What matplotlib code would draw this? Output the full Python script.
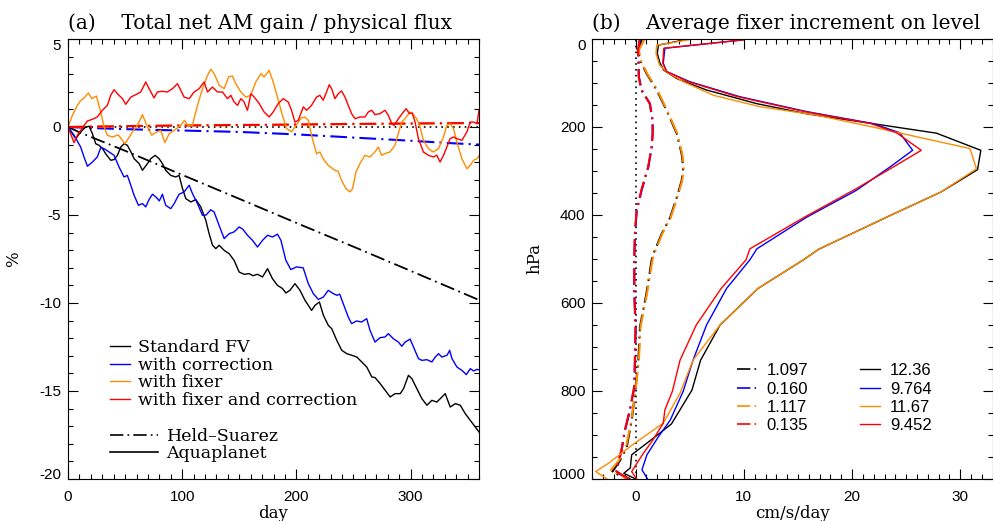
import matplotlib
matplotlib.use("Agg")
import matplotlib.pyplot as plt
from matplotlib.lines import Line2D
from matplotlib.ticker import MultipleLocator

plt.rcParams['axes.unicode_minus'] = False
plt.rcParams['font.family'] = ['Liberation Sans', 'DejaVu Sans']
SERIF = 'DejaVu Serif'

BLACK = '#000000'
BLUE = '#0000ff'
ORANGE = '#ff8c00'
RED = '#ff0000'
DASHDOT = (0, (8, 2.5, 1, 2.5))
DOTTED = (0, (1, 2.5))

# ---------------- (a) total net AM gain / physical flux [%] ----------------
# Aquaplanet runs
std_day = [0, 3.8, 6.8, 11.1, 15.5, 18.5, 21.4, 24.3, 27.2, 30, 33, 37.4, 40.4, 43.3, 46.2, 49.1, 52, 55,
           57.9, 62.3, 65.2, 69.6, 72.5, 76.3, 79.8, 82.7, 85.6, 90, 94.4, 97.3, 100.3, 103.2, 107.6, 112,
           116.3, 120.7, 123.6, 126.6, 129.5, 132.4, 136.8, 141.2, 145.5, 149.9, 154.3, 158.7, 162, 166,
           170.4, 174.8, 179.1, 183.5, 187.9, 190.8, 194.4, 198.8, 203.2, 207.6, 213.4, 216.4, 220.2, 223.7,
           228, 231, 235.4, 239.8, 244.2, 248.6, 253, 257.3, 261.7, 266.1, 269, 273.4, 277.8, 282.2, 286.5,
           291, 293.9, 298.2, 301.2, 305.6, 310, 314.4, 318.7, 323.1, 327.5, 330.4, 334.8, 339.2, 343.6,
           348, 352.4, 356.8, 360]
std_pct = [0, -0.38, -0.66, -0.28, 0, 0.04, -0.38, -0.95, -1.04, -1.2, -1.52, -1.89, -1.85, -1.61, -1.14,
           -0.95, -1.04, -1.4, -1.8, -2.08, -2.46, -2.08, -1.8, -1.61, -1.8, -2.08, -2.46, -2.75, -2.84,
           -2.75, -3.5, -4.07, -4.26, -4.12, -4.54, -5.3, -6.06, -6.72, -6.91, -6.72, -7.01, -7.2, -7.58,
           -8.24, -8.37, -8.33, -8.45, -8.37, -8.52, -8.05, -8.62, -9.0, -9.18, -9.43, -9.28, -8.9, -9.28,
           -9.85, -10.42, -10.13, -9.94, -10.7, -11.27, -11.46, -12.12, -12.69, -12.88, -12.97, -13.07,
           -13.35, -13.64, -14.2, -14.24, -14.58, -14.96, -15.34, -15.15, -15.15, -14.87, -14.11, -14.3,
           -14.87, -15.44, -15.81, -15.53, -15.63, -15.34, -15.15, -15.91, -15.72, -15.81, -16.29, -16.67,
           -17.05, -17.33]

cor_day = [0, 5.3, 11.1, 14, 17, 21.4, 25.7, 28.7, 31.6, 36, 40.4, 44.7, 49.1, 52, 55, 57.9, 61.7, 65.2,
           68.1, 71, 74, 77.5, 80, 82.7, 85.6, 90, 93, 97.3, 101.7, 106.1, 109, 113.4, 117.8, 121, 125.1,
           128, 132.4, 136.8, 141.2, 145.5, 149.9, 153, 157.2, 161.6, 166, 170.4, 174.8, 179.1, 183.5, 186.5,
           190.8, 195.2, 200.2, 206, 210.5, 214.9, 219.3, 223.7, 228, 232.4, 235.4, 238, 241.1, 245.5, 248.4,
           252.8, 257.2, 261.6, 264.5, 268.9, 273.3, 277.7, 280.6, 285, 289.4, 292.4, 295.3, 299.7, 302.6,
           307, 310, 314.4, 318.7, 321.7, 324.6, 327.5, 332, 334.3, 336.3, 340.7, 345.1, 348.9, 352.4, 355.3,
           358.3, 360]
cor_pct = [0, -0.47, -1.14, -1.7, -2.23, -1.99, -1.7, -1.17, -1.23, -1.42, -1.61, -2.27, -2.84, -2.75,
           -3.31, -3.88, -4.45, -4.35, -4.54, -4.12, -3.82, -4.01, -4.2, -3.82, -4.45, -4.64, -4.35, -3.82,
           -3.69, -3.31, -3.78, -4.35, -5.02, -5.0, -4.7, -4.83, -5.6, -6.34, -6.06, -5.96, -5.68, -5.8,
           -6.15, -6.44, -6.82, -6.44, -6.15, -6.25, -6.09, -6.44, -7.57, -8.1, -7.95, -8.0, -8.9, -9.47,
           -9.8, -9.66, -9.28, -9.47, -9.56, -9.5, -10.04, -10.8, -11.17, -11.02, -11.08, -10.89, -11.55,
           -12.22, -11.97, -11.93, -11.74, -12.03, -12.22, -12.46, -12.22, -12.05, -12.5, -13.16, -13.26,
           -13.22, -13.35, -13.07, -12.88, -13.07, -12.97, -12.69, -13.16, -13.64, -13.83, -14.07, -13.73,
           -13.86, -13.77, -13.8]

fix_day = [0, 3.8, 8.2, 11.1, 14, 17.9, 20.8, 24.9, 28.7, 31.6, 34.5, 38.9, 44, 50, 56.4, 60.8, 65.2, 69.6,
           73.4, 77, 81.3, 84.8, 88.6, 93, 98.8, 102, 104.6, 109, 113.4, 117.8, 122, 125, 128, 132.4, 136.8,
           140.6, 144, 147, 151.4, 155.8, 160, 164.5, 169, 171.8, 176.2, 179.7, 182.6, 187, 191.4, 195.8,
           200, 204, 207.5, 210.5, 213.3, 217.7, 220.6, 223.5, 227.9, 233.7, 236.5, 239.6, 243.4, 246.9,
           249.3, 252.2, 255.7, 260, 264.5, 268.8, 271.8, 274.7, 278, 282, 286.4, 289.3, 292.2, 295.2, 299.6,
           302.5, 305.4, 308.4, 311.3, 315.7, 320, 324.5, 328.9, 331.8, 334.7, 337.7, 340.6, 345, 349.4,
           352.3, 355.3, 358.2, 360]
fix_pct = [0, 0.66, 1.23, 1.5, 1.65, 1.93, 1.61, 1.76, 0.85, 0, -0.47, -0.57, -0.45, -0.95, -0.28, 0.09,
           0.7, 0, -0.47, -0.3, -0.19, -0.89, -0.38, -0.19, 0.09, 0.38, 0.1, 0.1, 1.23, 2.18, 2.9, 3.28,
           3.03, 2.37, 2.18, 2.84, 2.9, 2.46, 1.99, 1.7, 1.8, 2.56, 3.03, 2.84, 3.22, 2.56, 1.9, 0.85, -0.09,
           -0.28, 0.1, 0.5, 0.57, 0.38, -0.47, -1.52, -1.42, -1.8, -2.18, -2.46, -2.5, -3.03, -3.5, -3.69,
           -3.5, -2.56, -2.08, -1.61, -1.7, -1.42, -1.14, -1.61, -1.5, -1.42, -1.04, -0.38, 0.28, 0.47, 0.85,
           0.7, 0.47, 0, -0.76, -1.23, -1.42, -1.23, -0.57, 0.09, 0.19, -0.09, -0.85, -1.8, -2.37, -2.18,
           -1.89, -1.8, -1.65]

fixcor_day = [0, 5.3, 8.2, 12, 17, 21.4, 25.7, 30.1, 34.5, 37.4, 40.4, 43.3, 47.7, 50.6, 55, 59.4, 63.7,
              66.7, 68.1, 71, 75.4, 78.3, 82.7, 87.1, 91.5, 95.9, 98.8, 101.7, 106.1, 110.5, 114.9, 119.2,
              122.2, 126.5, 130.9, 135.3, 139.7, 142.6, 145.5, 148.5, 151.4, 154, 157.2, 160.2, 163.1, 167.5,
              171.8, 176.2, 179.7, 184.1, 188.5, 192.9, 195.8, 198.8, 201.7, 206.1, 209, 213.3, 217.7, 220.6,
              223.5, 226.5, 228.8, 230.9, 233.8, 236.7, 239.6, 242.6, 245.5, 248.4, 251.4, 255.7, 260.1, 263,
              266, 268.9, 273.3, 277.7, 280.6, 283.6, 285.6, 289.4, 293.8, 296.2, 299.1, 301.5, 304, 306.9,
              311.3, 315.7, 320, 323, 325.9, 328.9, 331.8, 334.7, 337.7, 340.6, 345, 349.4, 352.3, 355.3,
              358.2, 360]
fixcor_pct = [0, -0.89, -0.47, -0.1, 0.34, 0.44, 0.57, 0.95, 1.23, 1.8, 2.12, 1.89, 1.61, 1.29, 1.7, 1.84,
              1.99, 2.37, 2.56, 2.18, 1.65, 1.99, 2.03, 1.99, 2.18, 2.46, 2.08, 1.7, 1.61, 1.99, 2.18, 2.56,
              1.99, 2.27, 1.99, 1.99, 1.61, 1.8, 1.42, 1.23, 1.61, 1.45, 0.95, 1.89, 1.7, 1.33, 0.85, 0.57,
              0.85, 1.33, 1.61, 1.42, 0.95, 0.28, 0.38, 1.14, 0.95, 1.23, 1.7, 1.8, 1.52, 1.99, 2.4, 2.18,
              1.61, 1.89, 2.05, 1.7, 1.23, 0.76, 0.47, 0.57, 0.57, 0.85, 0.95, 0.7, 0.76, 0.95, 0.66, 0.19,
              0.09, 0.47, 0.85, 1.04, 0.76, 0.8, 0.28, -0.66, -1.42, -1.61, -1.7, -1.6, -1.99, -1.61, -1.14,
              -0.66, -0.57, -0.66, -0.76, -0.28, 0.28, 0.28, 0.19, 0.95]

# Held-Suarez runs
hs_std_day = [0, 10, 50, 100, 150, 200, 250, 300, 360]
hs_std_pct = [0, -0.3, -1.35, -2.72, -4.08, -5.45, -6.8, -8.17, -9.83]
hs_cor_day = [0, 30, 60, 100, 150, 200, 250, 300, 330, 360]
hs_cor_pct = [0, -0.08, -0.14, -0.2, -0.28, -0.42, -0.6, -0.78, -0.9, -1.0]
hs_fix_day = [0, 60, 120, 180, 240, 300, 360]
hs_fix_pct = [0, 0.05, 0.09, 0.12, 0.16, 0.19, 0.22]
hs_fixcor_day = [0, 60, 120, 180, 240, 300, 360]
hs_fixcor_pct = [0, 0.06, 0.1, 0.13, 0.17, 0.2, 0.23]

run_labels = ['Standard FV', 'with correction', 'with fixer', 'with fixer and correction']

# ---------------- (b) average fixer increment on level [cm/s/day] ----------------
aq_std_p = [2, 14, 33, 55, 71, 90, 116, 147, 170, 189, 214, 253, 297, 348, 398, 478, 502, 567, 650, 730,
            798, 875, 904, 945, 975, 987, 1000]
aq_std_u = [4.5, 2.1, 2.0, 2.25, 2.6, 3.8, 6.55, 11.2, 15.8, 21.0, 27.8, 31.9, 31.6, 28.2, 23.8, 16.9, 15.5,
            11.3, 7.8, 6.0, 5.2, 3.3, 1.8, -0.37, -0.5, -1.1, 0.0]
aq_cor_p = [2, 21, 55, 74, 97, 131, 165, 192, 213, 253, 291, 344, 405, 477, 502, 567, 650, 730, 800, 866,
            904, 945, 979, 1000]
aq_cor_u = [9.94, 2.7, 2.55, 2.86, 5.0, 9.6, 15.8, 21.9, 24.4, 25.6, 23.5, 20.4, 15.8, 11.2, 10.55, 8.4,
            6.55, 5.3, 4.4, 3.2, 2.1, 1.04, 0.58, 1.1]
aq_fix_p = [2, 14, 33, 59, 75, 97, 128, 154, 173, 200, 249, 295, 348, 398, 478, 502, 567, 650, 730, 805,
            873, 923, 964, 983, 1000]
aq_fix_u = [4.86, 1.94, 1.88, 2.2, 2.86, 4.4, 7.2, 11.5, 16.7, 21.9, 30.9, 31.5, 28.2, 23.8, 16.9, 15.5,
            11.3, 7.8, 5.3, 4.1, 2.55, -0.34, -2.5, -3.7, -2.65]
aq_fixcor_p = [2, 21, 55, 74, 97, 131, 165, 192, 213, 253, 291, 340, 405, 477, 502, 567, 650, 730, 800,
               843, 873, 911, 942, 983, 1000]
aq_fixcor_u = [9.94, 2.6, 2.5, 2.86, 4.86, 9.4, 15.6, 21.7, 24.1, 26.4, 23.8, 20.4, 15.6, 10.55, 10.2, 7.9,
               5.6, 4.1, 3.4, 2.7, 2.55, 1.6, 0.7, -0.37, 0.1]

hs_std_p = [2, 25, 48, 78, 116, 162, 215, 261, 291, 322, 360, 405, 443, 489, 502, 578, 654, 730, 806, 867,
            928, 958, 985, 1000]
hs_std_u = [0.55, 0.25, 0.4, 1.0, 1.94, 2.86, 3.8, 4.25, 4.4, 4.25, 3.8, 3.2, 2.4, 1.63, 1.48, 1.0, 0.4,
            0.25, -0.06, -0.37, -0.83, -1.45, -2.2, -0.5]
hs_fix_p = [2, 25, 48, 78, 116, 162, 215, 261, 291, 322, 360, 405, 443, 489, 502, 578, 654, 730, 806, 867,
            928, 958, 980, 1000]
hs_fix_u = [0.8, 0.3, 0.45, 1.05, 2.0, 2.9, 3.85, 4.3, 4.45, 4.3, 3.85, 3.25, 2.45, 1.7, 1.55, 1.05, 0.45,
            0.3, -0.05, -0.4, -0.9, -1.55, -2.3, -0.8]
hs_cor_p = [2, 25, 86, 116, 147, 185, 215, 246, 291, 344, 390, 443, 497, 578, 654, 730, 791, 843, 889, 934,
            964, 983, 1000]
hs_cor_u = [0.4, 0.25, 0.3, 0.55, 1.32, 1.57, 1.57, 1.48, 1.17, 0.55, 0.1, -0.06, -0.12, -0.12, 0.0, -0.06,
            -0.12, -0.52, -0.98, -1.29, -1.6, -1.75, -0.8]
hs_fixcor_p = [2, 25, 86, 116, 147, 185, 215, 246, 291, 344, 390, 443, 497, 578, 654, 730, 791, 843, 889,
               934, 964, 983, 1000]
hs_fixcor_u = [0.35, 0.22, 0.28, 0.52, 1.3, 1.55, 1.57, 1.47, 1.15, 0.52, 0.08, -0.08, -0.14, -0.14, -0.02,
               -0.08, -0.14, -0.55, -1.0, -1.32, -1.65, -1.8, -0.6]

hs_means = ['1.097', '0.160', '1.117', '0.135']
aq_means = ['12.36', '9.764', '11.67', '9.452']


def style_axes(ax):
    for sp in ax.spines.values():
        sp.set_linewidth(0.8)
    ax.tick_params(which='both', direction='in', top=True, right=True, width=0.8, labelsize=11)
    ax.tick_params(which='major', length=7)
    ax.tick_params(which='minor', length=3.5)


def pull_end_labels(ax, top_val, bottom_val):
    # keep the end labels of the y axis inside the frame
    for tick in ax.yaxis.get_major_ticks():
        if abs(tick.get_loc() - top_val) < 1e-6:
            tick.label1.set_verticalalignment('top')
        elif abs(tick.get_loc() - bottom_val) < 1e-6:
            tick.label1.set_verticalalignment('baseline')


fig = plt.figure(figsize=(9.93, 5.21), dpi=100)
ax1 = fig.add_axes([68 / 993, 42 / 521, 411 / 993, 440 / 521])
ax2 = fig.add_axes([592.4 / 993, 42 / 521, 400.3 / 993, 440 / 521])

# ---- panel (a)
ax1.axhline(0, color=BLACK, lw=1.2, ls=DOTTED)
ax1.plot(hs_std_day, hs_std_pct, color=BLACK, lw=1.3, ls=DASHDOT)
ax1.plot(hs_cor_day, hs_cor_pct, color=BLUE, lw=1.5, ls=DASHDOT)
ax1.plot(hs_fix_day, hs_fix_pct, color=ORANGE, lw=1.5, ls=DASHDOT)
ax1.plot(hs_fixcor_day, hs_fixcor_pct, color=RED, lw=1.5, ls=DASHDOT)
ax1.plot(std_day, std_pct, color=BLACK, lw=1.0)
ax1.plot(cor_day, cor_pct, color=BLUE, lw=1.0)
ax1.plot(fix_day, fix_pct, color=ORANGE, lw=1.0)
ax1.plot(fixcor_day, fixcor_pct, color=RED, lw=1.0)

ax1.set_xlim(0, 360)
ax1.set_ylim(-20, 5)
ax1.xaxis.set_major_locator(MultipleLocator(100))
ax1.xaxis.set_minor_locator(MultipleLocator(10))
ax1.yaxis.set_major_locator(MultipleLocator(5))
ax1.yaxis.set_minor_locator(MultipleLocator(1))
style_axes(ax1)
ax1.tick_params(axis='x', pad=8)
ax1.tick_params(axis='y', pad=5)
ax1.set_xlabel('day', fontfamily=SERIF, fontsize=12, labelpad=1)
ax1.set_ylabel('%', fontfamily=SERIF, fontsize=12)
ax1.yaxis.set_label_coords(-0.112, 0.5)
ax1.set_title('(a)    Total net AM gain / physical flux', loc='left', fontfamily=SERIF,
              fontsize=14.5, pad=7)

run_handles = [Line2D([], [], color=c, lw=1.0) for c in (BLACK, BLUE, ORANGE, RED)]
leg1 = ax1.legend(run_handles, run_labels, loc='upper left', bbox_to_anchor=(0.102, 0.318),
                  frameon=False, borderpad=0, borderaxespad=0, handlelength=1.15, handletextpad=0.48,
                  labelspacing=0.03, prop={'family': SERIF, 'size': 12.5})
ax1.add_artist(leg1)
case_handles = [Line2D([], [], color=BLACK, lw=1.2, ls=DASHDOT), Line2D([], [], color=BLACK, lw=1.2)]
ax1.legend(case_handles, ['Held\u2013Suarez', 'Aquaplanet'], loc='upper left',
           bbox_to_anchor=(0.102, 0.116), frameon=False, borderpad=0, borderaxespad=0,
           handlelength=2.78, handletextpad=0.48, labelspacing=0.03, prop={'family': SERIF, 'size': 12.5})

# ---- panel (b)
ax2.axvline(0, color=BLACK, lw=1.2, ls=DOTTED)
ax2.plot(hs_std_u, hs_std_p, color=BLACK, lw=1.5, ls=DASHDOT)
ax2.plot(hs_cor_u, hs_cor_p, color=BLUE, lw=1.5, ls=DASHDOT)
ax2.plot(hs_fix_u, hs_fix_p, color=ORANGE, lw=1.5, ls=DASHDOT)
ax2.plot(hs_fixcor_u, hs_fixcor_p, color=RED, lw=1.5, ls=DASHDOT)
ax2.plot(aq_std_u, aq_std_p, color=BLACK, lw=1.0)
ax2.plot(aq_cor_u, aq_cor_p, color=BLUE, lw=1.0)
ax2.plot(aq_fix_u, aq_fix_p, color=ORANGE, lw=1.0)
ax2.plot(aq_fixcor_u, aq_fixcor_p, color=RED, lw=1.0)

ax2.set_xlim(-4, 33)
ax2.set_ylim(1000, 0)
ax2.xaxis.set_major_locator(MultipleLocator(10))
ax2.xaxis.set_minor_locator(MultipleLocator(1))
ax2.yaxis.set_major_locator(MultipleLocator(200))
ax2.yaxis.set_minor_locator(MultipleLocator(50))
style_axes(ax2)
ax2.tick_params(axis='x', pad=8)
ax2.tick_params(axis='y', pad=5)
ax2.set_xlabel('cm/s/day', fontfamily=SERIF, fontsize=12, labelpad=1)
ax2.set_ylabel('hPa', fontfamily=SERIF, fontsize=12)
ax2.yaxis.set_label_coords(-0.123, 0.5)
ax2.set_title('(b)    Average fixer increment on level', loc='left', fontfamily=SERIF,
              fontsize=14.5, pad=7)

mean_handles = [Line2D([], [], color=c, lw=1.2, ls=DASHDOT) for c in (BLACK, BLUE, ORANGE, RED)]
mean_handles += [Line2D([], [], color=c, lw=1.0) for c in (BLACK, BLUE, ORANGE, RED)]
ax2.legend(mean_handles, hs_means + aq_means, ncol=2, loc='upper left', bbox_to_anchor=(0.3605, 0.263),
           frameon=False, borderpad=0, borderaxespad=0, handlelength=1.2, handletextpad=0.6,
           labelspacing=0.2, columnspacing=3.1, prop={'size': 12})

fig.canvas.draw()
pull_end_labels(ax1, 5, -20)
pull_end_labels(ax2, 0, 1000)

fig.savefig('out.png', dpi=100)
